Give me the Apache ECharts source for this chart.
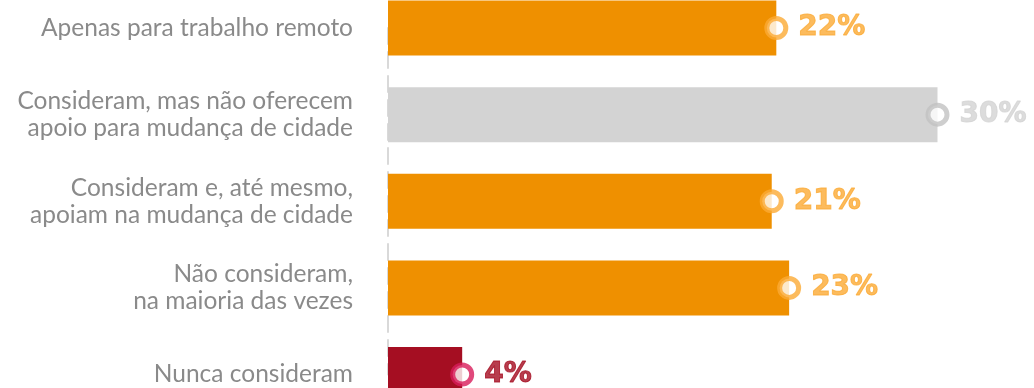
<!DOCTYPE html>
<html>
<head>
<meta charset="utf-8">
<script src="https://cdn.jsdelivr.net/npm/echarts@6/dist/echarts.min.js"></script>
<style>
  html, body { margin: 0; padding: 0; background: #fff; }
  #chart { width: 1034px; height: 388px; }
</style>
</head>
<body>
<div id="chart"></div>
<script>
// categories, top to bottom
const categories = [
    'Apenas para trabalho remoto',
    'Consideram, mas não oferecem\napoio para mudança de cidade',
    'Consideram e, até mesmo,\napoiam na mudança de cidade',
    'Não consideram,\nna maioria das vezes',
    'Nunca consideram'
];
// bar lengths as drawn (in %)
const barValues = [21.2, 30, 20.95, 21.9, 4.05];
// printed value labels
const valueLabels = ['22%', '30%', '21%', '23%', '4%'];

const barColors = ['#EF9000', '#D3D3D3', '#EF9000', '#EF9000', '#A50E22'];
const ringColors = ['#FBAA35', '#C2C2C2', '#FBAA35', '#FBAA35', '#D81B5A'];
const textColors = ['#FBAA35', '#D3D3D3', '#FBAA35', '#FBAA35', '#A50E22'];

const myChart = echarts.init(document.getElementById('chart'));
myChart.setOption({
    animation: false,
    grid: { left: 388, right: 96.5, top: 28, bottom: 13, containLabel: false },
    xAxis: {
        type: 'value',
        min: 0,
        max: 30,
        show: false
    },
    yAxis: {
        type: 'category',
        inverse: true,
        boundaryGap: false,
        data: categories,
        axisTick: { show: false },
        splitLine: { show: false },
        axisLine: { show: true, lineStyle: { color: '#D9D9D9', width: 2, type: [16, 8] } },
        axisLabel: {
            margin: 35,
            fontFamily: 'Lato',
            fontSize: 24.5,
            lineHeight: 27,
            color: '#8A8A8A',
            align: 'right'
        }
    },
    series: [
        {
            type: 'bar',
            barWidth: 55,
            data: barValues.map((v, i) => ({ value: v, itemStyle: { color: barColors[i] } })),
            z: 2
        },
        {
            type: 'scatter',
            symbol: 'circle',
            symbolSize: 19,
            data: barValues.map((v, i) => ({
                value: [v, i],
                itemStyle: { color: '#fff', borderColor: ringColors[i], borderWidth: 5 },
                label: { color: textColors[i], textBorderColor: textColors[i] }
            })),
            label: {
                show: true,
                position: 'right',
                distance: 10,
                fontFamily: 'DejaVu Sans',
                fontWeight: 'bold',
                fontSize: 28,
                textBorderWidth: 1,
                formatter: p => valueLabels[p.dataIndex]
            },
            z: 3
        }
    ]
});
</script>
</body>
</html>
